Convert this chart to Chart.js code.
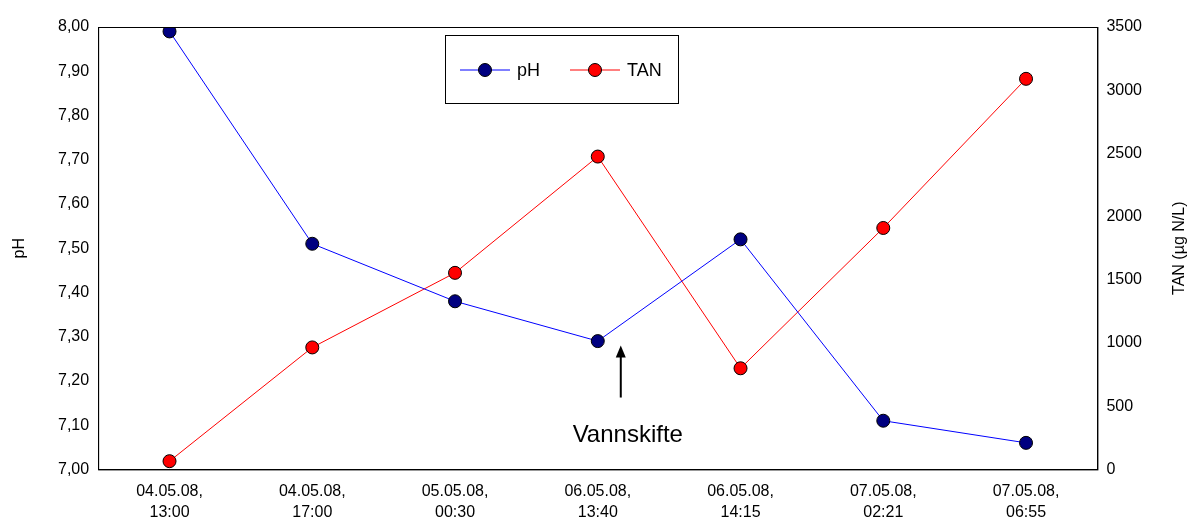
<!DOCTYPE html>
<html><head><meta charset="utf-8">
<script src="https://cdn.jsdelivr.net/npm/chart.js"></script>
<style>html,body{margin:0;background:#fff}#wrap{width:1192px;height:529px}</style>
</head><body><div id="wrap"><canvas id="c"></canvas></div>
<script>
const labels = [["04.05.08,","13:00"],["04.05.08,","17:00"],["05.05.08,","00:30"],["06.05.08,","13:40"],["06.05.08,","14:15"],["07.05.08,","02:21"],["07.05.08,","06:55"]];
const phValues = [7.99, 7.51, 7.38, 7.29, 7.52, 7.11, 7.06];
const tanValues = [65, 965, 1555, 2475, 800, 1910, 3090];
const FONT = "Liberation Sans, Arial, sans-serif";

const extras = {
  id: "extras",
  afterDraw(chart) {
    const ctx = chart.ctx, a = chart.chartArea;
    ctx.save();
    ctx.strokeStyle = "#000"; ctx.lineWidth = 1;
    ctx.strokeRect(a.left + 0.5, a.top + 0.5, a.right - a.left, a.bottom - a.top);
    ctx.fillStyle = "#000"; ctx.font = "16px " + FONT; ctx.textAlign = "center"; ctx.textBaseline = "middle";
    ctx.save(); ctx.translate(20, (a.top + a.bottom) / 2); ctx.rotate(-Math.PI / 2); ctx.fillText("pH", 0, 0); ctx.restore();
    ctx.save(); ctx.translate(1180, (a.top + a.bottom) / 2); ctx.rotate(-Math.PI / 2); ctx.fillText("TAN (µg N/L)", 0, 0); ctx.restore();
    const x = chart.scales.x.getPixelForValue(3) + 23;
    const yTop = chart.scales.y.getPixelForValue(7.28);
    ctx.beginPath(); ctx.moveTo(x, yTop + 52); ctx.lineTo(x, yTop + 4); ctx.lineWidth = 2; ctx.stroke();
    ctx.beginPath(); ctx.moveTo(x, yTop); ctx.lineTo(x - 5, yTop + 12); ctx.lineTo(x + 5, yTop + 12); ctx.closePath(); ctx.fill();
    ctx.font = "24px " + FONT; ctx.textAlign = "center";
    ctx.fillText("Vannskifte", x + 7, yTop + 90);
    ctx.lineWidth = 1; ctx.fillStyle = "#fff";
    ctx.fillRect(445, 35, 233, 68); ctx.strokeRect(445.5, 35.5, 233, 68);
    const items = [["pH", "#0000ff", "#000080", 460], ["TAN", "#ff0000", "#ff0000", 570]];
    ctx.font = "18px " + FONT; ctx.textAlign = "left";
    for (const [t, lc, fc, lx] of items) {
      ctx.strokeStyle = lc; ctx.beginPath(); ctx.moveTo(lx, 70); ctx.lineTo(lx + 50, 70); ctx.stroke();
      ctx.beginPath(); ctx.arc(lx + 25, 70, 6.5, 0, Math.PI * 2); ctx.fillStyle = fc; ctx.fill();
      ctx.strokeStyle = "#000"; ctx.stroke();
      ctx.fillStyle = "#000"; ctx.fillText(t, lx + 57, 71);
    }
    ctx.restore();
  }
};

new Chart(document.getElementById("c"), {
  type: "line",
  data: { labels, datasets: [
    { label: "pH", data: phValues, yAxisID: "y", borderColor: "#0000ff", borderWidth: 1,
      pointBackgroundColor: "#000080", pointBorderColor: "#000", pointRadius: 6.5, pointBorderWidth: 1 },
    { label: "TAN", data: tanValues, yAxisID: "y2", borderColor: "#ff0000", borderWidth: 1,
      pointBackgroundColor: "#ff0000", pointBorderColor: "#000", pointRadius: 6.5, pointBorderWidth: 1 }
  ]},
  options: {
    responsive: true, maintainAspectRatio: false, animation: false,
    layout: { padding: { left: 55, right: 47, top: 27, bottom: 0 } },
    plugins: { legend: { display: false }, tooltip: { enabled: false } },
    scales: {
      x: { offset: true, grid: { display: false, tickLength: 6, color: "#000" },
        border: { color: "#000" },
        ticks: { color: "#000", font: { family: FONT, size: 16, lineHeight: 1.3 }, maxRotation: 0, padding: 6 } },
      y: { position: "left", min: 7, max: 8, grid: { display: false, tickLength: 6 },
        border: { color: "#000" },
        ticks: { stepSize: 0.1, color: "#000", font: { family: FONT, size: 16 },
          callback: v => v.toFixed(2).replace(".", ",") } },
      y2: { position: "right", min: 0, max: 3500, grid: { display: false, tickLength: 6 },
        border: { color: "#000" },
        ticks: { stepSize: 500, color: "#000", font: { family: FONT, size: 16 }, callback: v => String(v) } }
    }
  },
  plugins: [extras]
});
</script></body></html>
